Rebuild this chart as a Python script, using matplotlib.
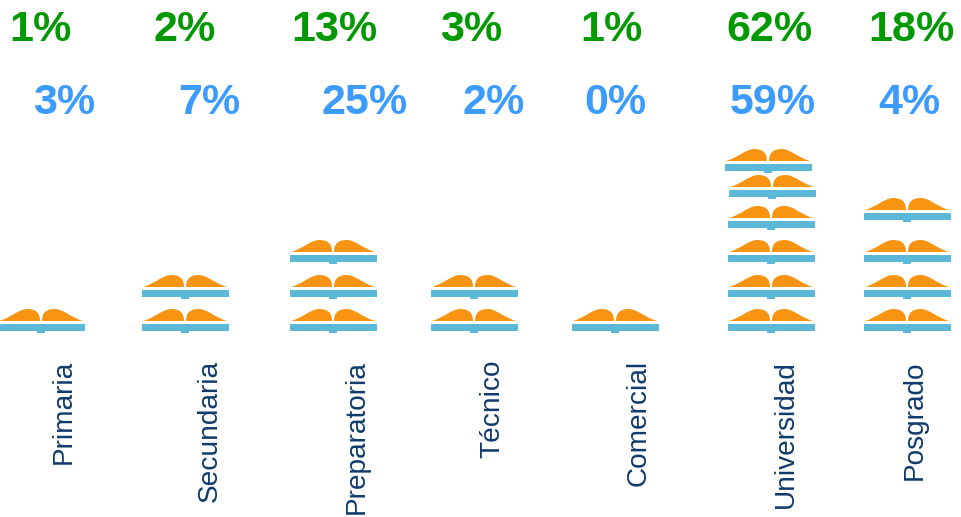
import matplotlib
matplotlib.use('Agg')
import matplotlib.pyplot as plt
from matplotlib.path import Path
from matplotlib.patches import PathPatch, Rectangle

categories = ['Primaria', 'Secundaria', 'Preparatoria', 'Técnico', 'Comercial', 'Universidad', 'Posgrado']
green_pct = [1, 2, 13, 3, 1, 62, 18]
blue_pct = [3, 7, 25, 2, 0, 59, 4]
book_counts = [1, 2, 3, 2, 1, 6, 4]

# layout, in pixels of the 961x517 picture
book_x = [41, 185, 333, 474, 615, 771, 907]
green_x = [40, 185, 334, 471, 611, 769, 911]
blue_x = [64, 209, 365, 494, 615, 773, 909]
label_x = [64, 210, 357, 492, 639, 786, 915]
row_y = [327, 293, 258, 224, 193, 167]
row_y_posgrado = [327, 293, 258, 216]
x_nudge_univ = [0, 0, 0, 0, 1, -3]

GREEN = '#009900'
BLUE = '#3b9bff'
NAVY = '#0f3a6b'
ORANGE = '#f89412'
TEAL = '#5bb8d6'


def hump(spine, outer, base, top):
    # one page of the book, steep and round on the spine side
    d = 1 if outer > spine else -1
    verts = [(spine, base), (spine, top + 4), (spine + d * 4, top), (spine + d * 13, top),
             (spine + d * 21, top), (outer - d * 12, base - 3.5), (outer, base), (spine, base)]
    codes = [Path.MOVETO, Path.CURVE4, Path.CURVE4, Path.CURVE4,
             Path.CURVE4, Path.CURVE4, Path.CURVE4, Path.CLOSEPOLY]
    return PathPatch(Path(verts, codes), fc=ORANGE, ec='none')


def draw_book(ax, cx, cy):
    ax.add_patch(Rectangle((cx - 43.5, cy - 3.5), 87, 7, fc=TEAL, ec='none'))
    ax.add_patch(Rectangle((cx - 4, cy + 3), 8, 2.5, fc=TEAL, ec='none'))
    ax.add_patch(hump(cx - 1, cx - 42, cy - 6, cy - 18))
    ax.add_patch(hump(cx + 1, cx + 42, cy - 6, cy - 18))


fig = plt.figure(figsize=(9.61, 5.17), dpi=100)
ax = fig.add_axes([0, 0, 1, 1])
ax.set_xlim(0, 961)
ax.set_ylim(517, 0)
ax.axis('off')

for i, name in enumerate(categories):
    rows = row_y_posgrado if name == 'Posgrado' else row_y
    for k in range(book_counts[i]):
        nudge = x_nudge_univ[k] if name == 'Universidad' else 0
        draw_book(ax, book_x[i] + nudge, rows[k])
    ax.text(green_x[i], 30, f'{green_pct[i]}%', color=GREEN, fontsize=31, fontweight='bold',
            family='Liberation Sans', ha='center', va='center')
    ax.text(blue_x[i], 103, f'{blue_pct[i]}%', color=BLUE, fontsize=31, fontweight='bold',
            family='Liberation Sans', ha='center', va='center')
    ax.text(label_x[i], 360, name, color=NAVY, fontsize=20.2, rotation=90,
            family='Liberation Sans', ha='center', va='top')

fig.savefig('out.png', dpi=100)
